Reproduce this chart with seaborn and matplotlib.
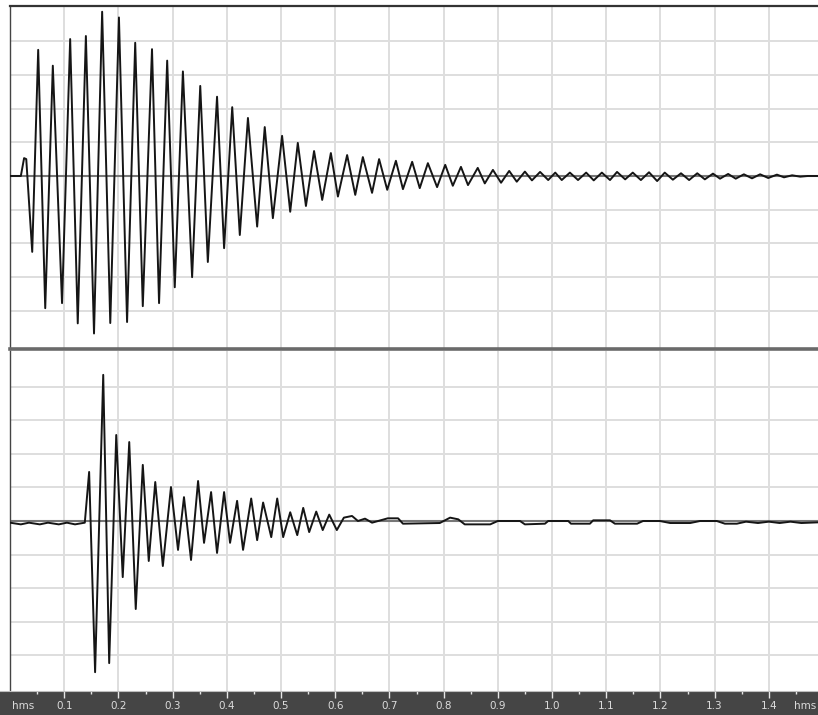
import matplotlib
matplotlib.use('Agg')
import matplotlib.pyplot as plt
import seaborn as sns
import pandas as pd

# time axis in "hms" units, amplitude in grid divisions
top_t = [0.000, 0.020, 0.026, 0.030, 0.041, 0.052, 0.065, 0.079, 0.096, 0.111,
         0.125, 0.140, 0.155, 0.170, 0.185, 0.201, 0.216, 0.231, 0.245, 0.262,
         0.275, 0.290, 0.304, 0.319, 0.336, 0.351, 0.365, 0.382, 0.395, 0.410,
         0.424, 0.439, 0.456, 0.470, 0.485, 0.502, 0.517, 0.531, 0.546, 0.561,
         0.576, 0.592, 0.605, 0.622, 0.637, 0.651, 0.668, 0.681, 0.696, 0.712,
         0.725, 0.742, 0.756, 0.771, 0.788, 0.803, 0.817, 0.832, 0.845, 0.863,
         0.876, 0.891, 0.906, 0.921, 0.935, 0.950, 0.963, 0.978, 0.993, 1.006,
         1.018, 1.033, 1.048, 1.063, 1.077, 1.092, 1.107, 1.120, 1.135, 1.149,
         1.164, 1.179, 1.194, 1.208, 1.223, 1.238, 1.253, 1.268, 1.282, 1.297,
         1.310, 1.325, 1.339, 1.354, 1.369, 1.384, 1.399, 1.415, 1.428, 1.443,
         1.458, 1.472, 1.491]
top_amp = [0.0, 0.0, 0.53, 0.5, -2.25, 3.74, -3.92, 3.27, -3.77, 4.06,
           -4.37, 4.15, -4.67, 4.87, -4.36, 4.7, -4.33, 3.95, -3.86, 3.76,
           -3.77, 3.42, -3.3, 3.1, -3.0, 2.67, -2.55, 2.35, -2.14, 2.04,
           -1.75, 1.72, -1.5, 1.45, -1.25, 1.19, -1.06, 0.98, -0.89, 0.74,
           -0.71, 0.68, -0.61, 0.62, -0.56, 0.56, -0.5, 0.5, -0.41, 0.45,
           -0.39, 0.42, -0.36, 0.38, -0.33, 0.33, -0.29, 0.27, -0.27, 0.24,
           -0.22, 0.18, -0.2, 0.15, -0.17, 0.13, -0.13, 0.12, -0.12, 0.1,
           -0.12, 0.1, -0.12, 0.1, -0.13, 0.1, -0.12, 0.12, -0.1, 0.1,
           -0.12, 0.11, -0.15, 0.1, -0.11, 0.08, -0.12, 0.08, -0.1, 0.07,
           -0.08, 0.06, -0.08, 0.05, -0.07, 0.05, -0.06, 0.04, -0.04, 0.02,
           -0.02, 0.0, 0.0]

bot_t = [0.000, 0.020, 0.035, 0.055, 0.070, 0.090, 0.105, 0.120, 0.138, 0.146,
         0.157, 0.172, 0.183, 0.196, 0.208, 0.220, 0.232, 0.245, 0.256, 0.268,
         0.282, 0.297, 0.310, 0.321, 0.334, 0.347, 0.358, 0.371, 0.382, 0.395,
         0.406, 0.419, 0.430, 0.445, 0.456, 0.467, 0.482, 0.493, 0.504, 0.517,
         0.530, 0.541, 0.552, 0.565, 0.577, 0.589, 0.603, 0.616, 0.631, 0.642,
         0.655, 0.668, 0.697, 0.716, 0.725, 0.793, 0.812, 0.827, 0.839, 0.886,
         0.900, 0.941, 0.950, 0.987, 0.993, 1.030, 1.035, 1.070, 1.076, 1.107,
         1.116, 1.157, 1.168, 1.199, 1.218, 1.255, 1.273, 1.304, 1.319, 1.341,
         1.358, 1.380, 1.400, 1.420, 1.440, 1.460, 1.491]
bot_amp = [-0.05, -0.1, -0.05, -0.1, -0.05, -0.1, -0.05, -0.1, -0.05, 1.46,
           -4.5, 4.35, -4.23, 2.56, -1.67, 2.35, -2.62, 1.67, -1.19, 1.16,
           -1.34, 1.01, -0.86, 0.71, -1.16, 1.19, -0.65, 0.86, -0.95, 0.86,
           -0.65, 0.6, -0.86, 0.67, -0.57, 0.55, -0.48, 0.67, -0.48, 0.26,
           -0.42, 0.39, -0.33, 0.28, -0.27, 0.19, -0.27, 0.1, 0.15, 0.0,
           0.07, -0.05, 0.08, 0.08, -0.08, -0.06, 0.1, 0.05, -0.1, -0.1,
           0.0, 0.0, -0.1, -0.08, 0.0, 0.0, -0.08, -0.08, 0.02, 0.02,
           -0.08, -0.08, 0.0, 0.0, -0.06, -0.06, 0.0, 0.0, -0.08, -0.08,
           -0.02, -0.06, -0.02, -0.06, -0.02, -0.06, -0.04]

tick_vals = [0.1, 0.2, 0.3, 0.4, 0.5, 0.6, 0.7, 0.8, 0.9, 1.0, 1.1, 1.2, 1.3, 1.4]
tick_labels = ['0.1', '0.2', '0.3', '0.4', '0.5', '0.6', '0.7',
               '0.8', '0.9', '1.0', '1.1', '1.2', '1.3', '1.4']
unit_label = 'hms'

W, H = 818, 715
PX = 542.0          # pixels per time unit
X0 = 10             # pixel column of t = 0
T_MAX = (W - X0) / PX


def frac(left, top, right, bottom):
    return [left / W, 1 - bottom / H, (right - left) / W, (bottom - top) / H]


sns.set_style('white')
plt.rcParams['font.family'] = 'DejaVu Sans'

fig = plt.figure(figsize=(W / 100, H / 100), dpi=100)
fig.patch.set_facecolor('white')

ax_top = fig.add_axes(frac(X0, 6, W, 349))
ax_bot = fig.add_axes(frac(X0, 351, W, 691))
ax_bar = fig.add_axes(frac(0, 691, W, H))

panels = [(ax_top, top_t, top_amp, (-5.13, 5.04)),
          (ax_bot, bot_t, bot_amp, (-5.06, 5.06))]
for ax, t, amp, ylim in panels:
    ax.set_xlim(0, T_MAX)
    ax.set_ylim(*ylim)
    ax.set_xticks(tick_vals)
    ax.set_yticks([-4, -3, -2, -1, 1, 2, 3, 4])
    ax.grid(True, color='#dedede', linewidth=1.4)
    ax.tick_params(length=0, labelbottom=False, labelleft=False)
    ax.axhline(0, color='#777777', linewidth=1.5, zorder=1)
    df = pd.DataFrame({'t': t, 'amp': amp})
    sns.lineplot(data=df, x='t', y='amp', ax=ax, estimator=None, sort=False,
                 color='#151515', linewidth=1.4, zorder=3)
    ax.set_xlabel('')
    ax.set_ylabel('')
    for s in ax.spines.values():
        s.set_visible(False)
    ax.spines['left'].set_visible(True)
    ax.spines['left'].set_color('#444444')
    ax.spines['left'].set_linestyle((0, (2, 1)))
    ax.spines['left'].set_linewidth(1.0)

ax_top.spines['top'].set_visible(True)
ax_top.spines['top'].set_color('#333333')
ax_top.spines['top'].set_linewidth(1.6)
ax_top.spines['bottom'].set_visible(True)
ax_top.spines['bottom'].set_color('#6a6a6a')
ax_top.spines['bottom'].set_linewidth(2.6)

# time ruler at the bottom
ax_bar.set_facecolor('#454545')
ax_bar.set_xlim(-X0 / PX, T_MAX)
ax_bar.set_ylim(0, 1)
ax_bar.set_yticks([])
ax_bar.set_xticks(tick_vals)
ax_bar.set_xticks([v - 0.05 for v in tick_vals] + [1.45], minor=True)
ax_bar.tick_params(which='both', bottom=False, top=True, labelbottom=False,
                   direction='in', color='#e6e6e6', width=1.0)
ax_bar.tick_params(which='major', length=5)
ax_bar.tick_params(which='minor', length=2)
for s in ax_bar.spines.values():
    s.set_visible(False)
ax_bar.spines['top'].set_visible(True)
ax_bar.spines['top'].set_color('#bdbdbd')
ax_bar.spines['top'].set_linewidth(0.8)

for v, lab in zip(tick_vals, tick_labels):
    ax_bar.text(v, 0.36, lab, ha='center', va='center', fontsize=7.5,
                color='#dcdcdc')
ax_bar.text(0.024, 0.36, unit_label, ha='center', va='center', fontsize=7.5,
            color='#dcdcdc')
ax_bar.text(1.467, 0.36, unit_label, ha='center', va='center', fontsize=7.5,
            color='#dcdcdc')

fig.savefig('out.png', dpi=100)
